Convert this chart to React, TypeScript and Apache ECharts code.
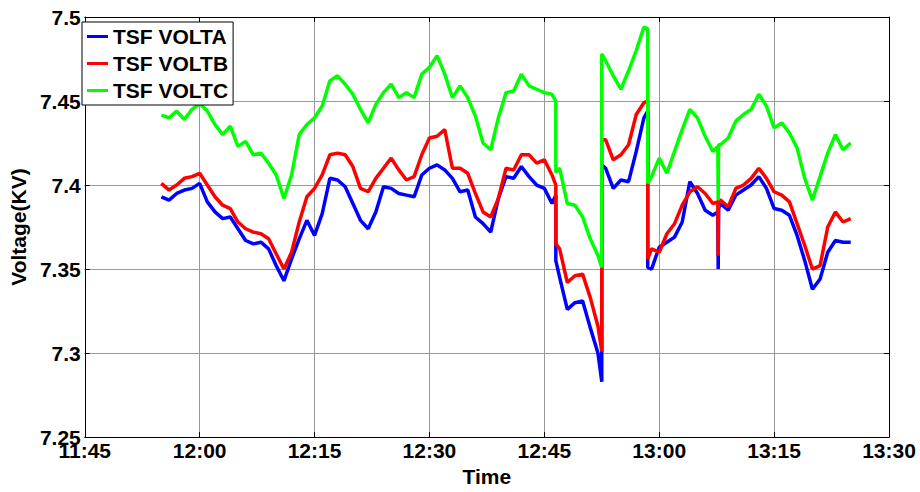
import React, { useEffect, useRef } from "react";
import * as echarts from "echarts";

// time in minutes after midnight (11:45 = 705, 13:30 = 810)
const times = [
  715, 716, 717, 718, 719, 720, 721, 722, 723, 724,
  725, 726, 727, 728, 729, 730, 731, 732, 733, 734,
  735, 736, 737, 738, 739, 740, 741, 742, 743, 744,
  745, 746, 747, 748, 749, 750, 751, 752, 753, 754,
  755, 756, 757, 758, 759, 760, 761, 762, 763, 764,
  765, 766, 766.5, 766.5,
  767, 768, 769, 770, 771, 772, 772.5, 772.5,
  773, 774, 775, 776, 777, 778, 778.5, 778.5,
  779, 780, 781, 782, 783, 784, 785, 786, 787, 787.65, 787.7, 787.75,
  788, 789, 790, 791, 792, 793, 794, 795, 796, 797, 798, 799, 800, 801, 802, 803, 804, 805,
];

const voltA = [
  7.393, 7.391, 7.395, 7.397, 7.398, 7.401, 7.390, 7.384, 7.380, 7.381,
  7.374, 7.367, 7.365, 7.366, 7.362, 7.352, 7.343, 7.356, 7.368, 7.379,
  7.370, 7.383, 7.404, 7.403, 7.399, 7.389, 7.379, 7.374, 7.384, 7.399,
  7.398, 7.395, 7.394, 7.393, 7.406, 7.410, 7.412, 7.409, 7.404, 7.396,
  7.397, 7.381, 7.377, 7.372, 7.392, 7.405, 7.404, 7.411, 7.405, 7.400,
  7.398, 7.389, 7.394, 7.355,
  7.345, 7.326, 7.330, 7.331, 7.315, 7.300, 7.283, 7.412,
  7.410, 7.398, 7.403, 7.402, 7.420, 7.440, 7.444, 7.351,
  7.350, 7.363, 7.366, 7.369, 7.378, 7.402, 7.395, 7.385, 7.382, 7.384, 7.350, 7.386,
  7.389, 7.385, 7.394, 7.397, 7.400, 7.405, 7.398, 7.386, 7.385, 7.382, 7.370, 7.355, 7.338, 7.344, 7.360, 7.367, 7.366, 7.366,
];

const voltB = [
  7.401, 7.397, 7.400, 7.404, 7.405, 7.407, 7.400, 7.393, 7.388, 7.386,
  7.378, 7.374, 7.372, 7.371, 7.368, 7.359, 7.350, 7.360, 7.378, 7.393,
  7.398, 7.406, 7.418, 7.419, 7.418, 7.411, 7.398, 7.396, 7.404, 7.410,
  7.416, 7.409, 7.403, 7.405, 7.418, 7.428, 7.429, 7.433, 7.410, 7.410,
  7.407, 7.395, 7.384, 7.381, 7.392, 7.410, 7.409, 7.418, 7.418, 7.413,
  7.415, 7.406, 7.400, 7.365,
  7.362, 7.342, 7.346, 7.347, 7.333, 7.316, 7.301, 7.427,
  7.427, 7.415, 7.418, 7.424, 7.442, 7.449, 7.450, 7.356,
  7.362, 7.360, 7.371, 7.377, 7.388, 7.396, 7.399, 7.395, 7.389, 7.390, 7.358, 7.391,
  7.391, 7.387, 7.398, 7.400, 7.404, 7.410, 7.404, 7.396, 7.394, 7.390, 7.377, 7.364, 7.350, 7.352, 7.375, 7.384, 7.378, 7.380,
];

const voltC = [
  7.4416, 7.440, 7.444, 7.439, 7.445, 7.4485, 7.444, 7.436, 7.430, 7.435,
  7.423, 7.426, 7.418, 7.419, 7.413, 7.406, 7.392, 7.406, 7.430, 7.436,
  7.440, 7.447, 7.462, 7.465, 7.460, 7.454, 7.445, 7.437, 7.448, 7.455,
  7.460, 7.452, 7.455, 7.452, 7.466, 7.470, 7.477, 7.466, 7.452, 7.459,
  7.452, 7.441, 7.425, 7.421, 7.440, 7.455, 7.456, 7.466, 7.459, 7.457,
  7.455, 7.454, 7.450, 7.4075,
  7.410, 7.389, 7.388, 7.381, 7.368, 7.358, 7.351, 7.478,
  7.474, 7.465, 7.457, 7.468, 7.480, 7.494, 7.493, 7.401,
  7.405, 7.416, 7.407, 7.420, 7.433, 7.445, 7.440, 7.429, 7.420, 7.423, 7.391, 7.424,
  7.424, 7.428, 7.438, 7.442, 7.445, 7.454, 7.447, 7.434, 7.437, 7.431, 7.422, 7.404, 7.391, 7.405, 7.419, 7.430, 7.421, 7.425,
];

const seriesNames = ["TSF VOLTA", "TSF VOLTB", "TSF VOLTC"];
const seriesColors = ["#0000ff", "#ff0000", "#00ff00"];

const FONT = "'Liberation Sans', Arial, sans-serif";

function fmtTime(v: number): string {
  const h = Math.floor(v / 60);
  const m = Math.round(v - h * 60);
  return `${h}:${String(m).padStart(2, "0")}`;
}

export default function App() {
  const ref = useRef<HTMLDivElement>(null);
  useEffect(() => {
    if (!ref.current) return;
    const chart = echarts.init(ref.current, undefined, { renderer: "svg" });
    const values = [voltA, voltB, voltC];
    const labelStyle = { color: "#000", fontFamily: FONT, fontWeight: "bold" as const, fontSize: 21 };
    chart.setOption({
      animation: false,
      backgroundColor: "#fff",
      grid: { left: 79, right: 31, top: 17, bottom: 48, containLabel: false },
      legend: {
        left: 82,
        top: 22,
        orient: "vertical",
        data: seriesNames.map((n) => ({ name: n, icon: "rect" })),
        itemWidth: 21,
        itemHeight: 3,
        itemGap: 6,
        padding: [4, 5, 4, 5],
        backgroundColor: "#fff",
        borderColor: "#000",
        borderWidth: 1,
        borderRadius: 0,
        textStyle: { ...labelStyle, lineHeight: 21 },
      },
      xAxis: [
        {
          type: "value",
          min: 705,
          max: 810,
          interval: 15,
          name: "Time",
          nameLocation: "middle",
          nameGap: 26,
          nameTextStyle: labelStyle,
          axisLine: { show: true, lineStyle: { color: "#000", width: 1 } },
          axisTick: { show: true, inside: true, length: 5, lineStyle: { color: "#000" } },
          axisLabel: { ...labelStyle, margin: 3, formatter: (v: number) => fmtTime(v) },
          splitLine: { show: true, lineStyle: { color: "#999", width: 1 } },
        },
        {
          type: "value",
          position: "top",
          min: 705,
          max: 810,
          interval: 15,
          axisLine: { show: true, lineStyle: { color: "#000", width: 1 } },
          axisTick: { show: true, inside: true, length: 5, lineStyle: { color: "#000" } },
          axisLabel: { show: false },
          splitLine: { show: false },
        },
      ],
      yAxis: [
        {
          type: "value",
          min: 7.25,
          max: 7.5,
          interval: 0.05,
          name: "Voltage(KV)",
          nameLocation: "middle",
          nameGap: 48,
          nameTextStyle: labelStyle,
          axisLine: { show: true, lineStyle: { color: "#000", width: 1 } },
          axisTick: { show: true, inside: true, length: 5, lineStyle: { color: "#000" } },
          axisLabel: { ...labelStyle, margin: 4 },
          splitLine: { show: true, lineStyle: { color: "#999", width: 1 } },
        },
        {
          type: "value",
          position: "right",
          min: 7.25,
          max: 7.5,
          interval: 0.05,
          axisLine: { show: true, lineStyle: { color: "#000", width: 1 } },
          axisTick: { show: true, inside: true, length: 5, lineStyle: { color: "#000" } },
          axisLabel: { show: false },
          splitLine: { show: false },
        },
      ],
      series: seriesNames.map((name, k) => ({
        name,
        type: "line",
        xAxisIndex: 0,
        yAxisIndex: 0,
        showSymbol: false,
        symbol: "none",
        color: seriesColors[k],
        lineStyle: { color: seriesColors[k], width: 3.5 },
        data: times.map((t, i) => [t, values[k][i]]),
      })),
    });
    return () => chart.dispose();
  }, []);
  return (
    <div
      ref={ref}
      style={{ position: "fixed", left: 0, top: 0, width: 920, height: 492, background: "#fff" }}
    />
  );
}
